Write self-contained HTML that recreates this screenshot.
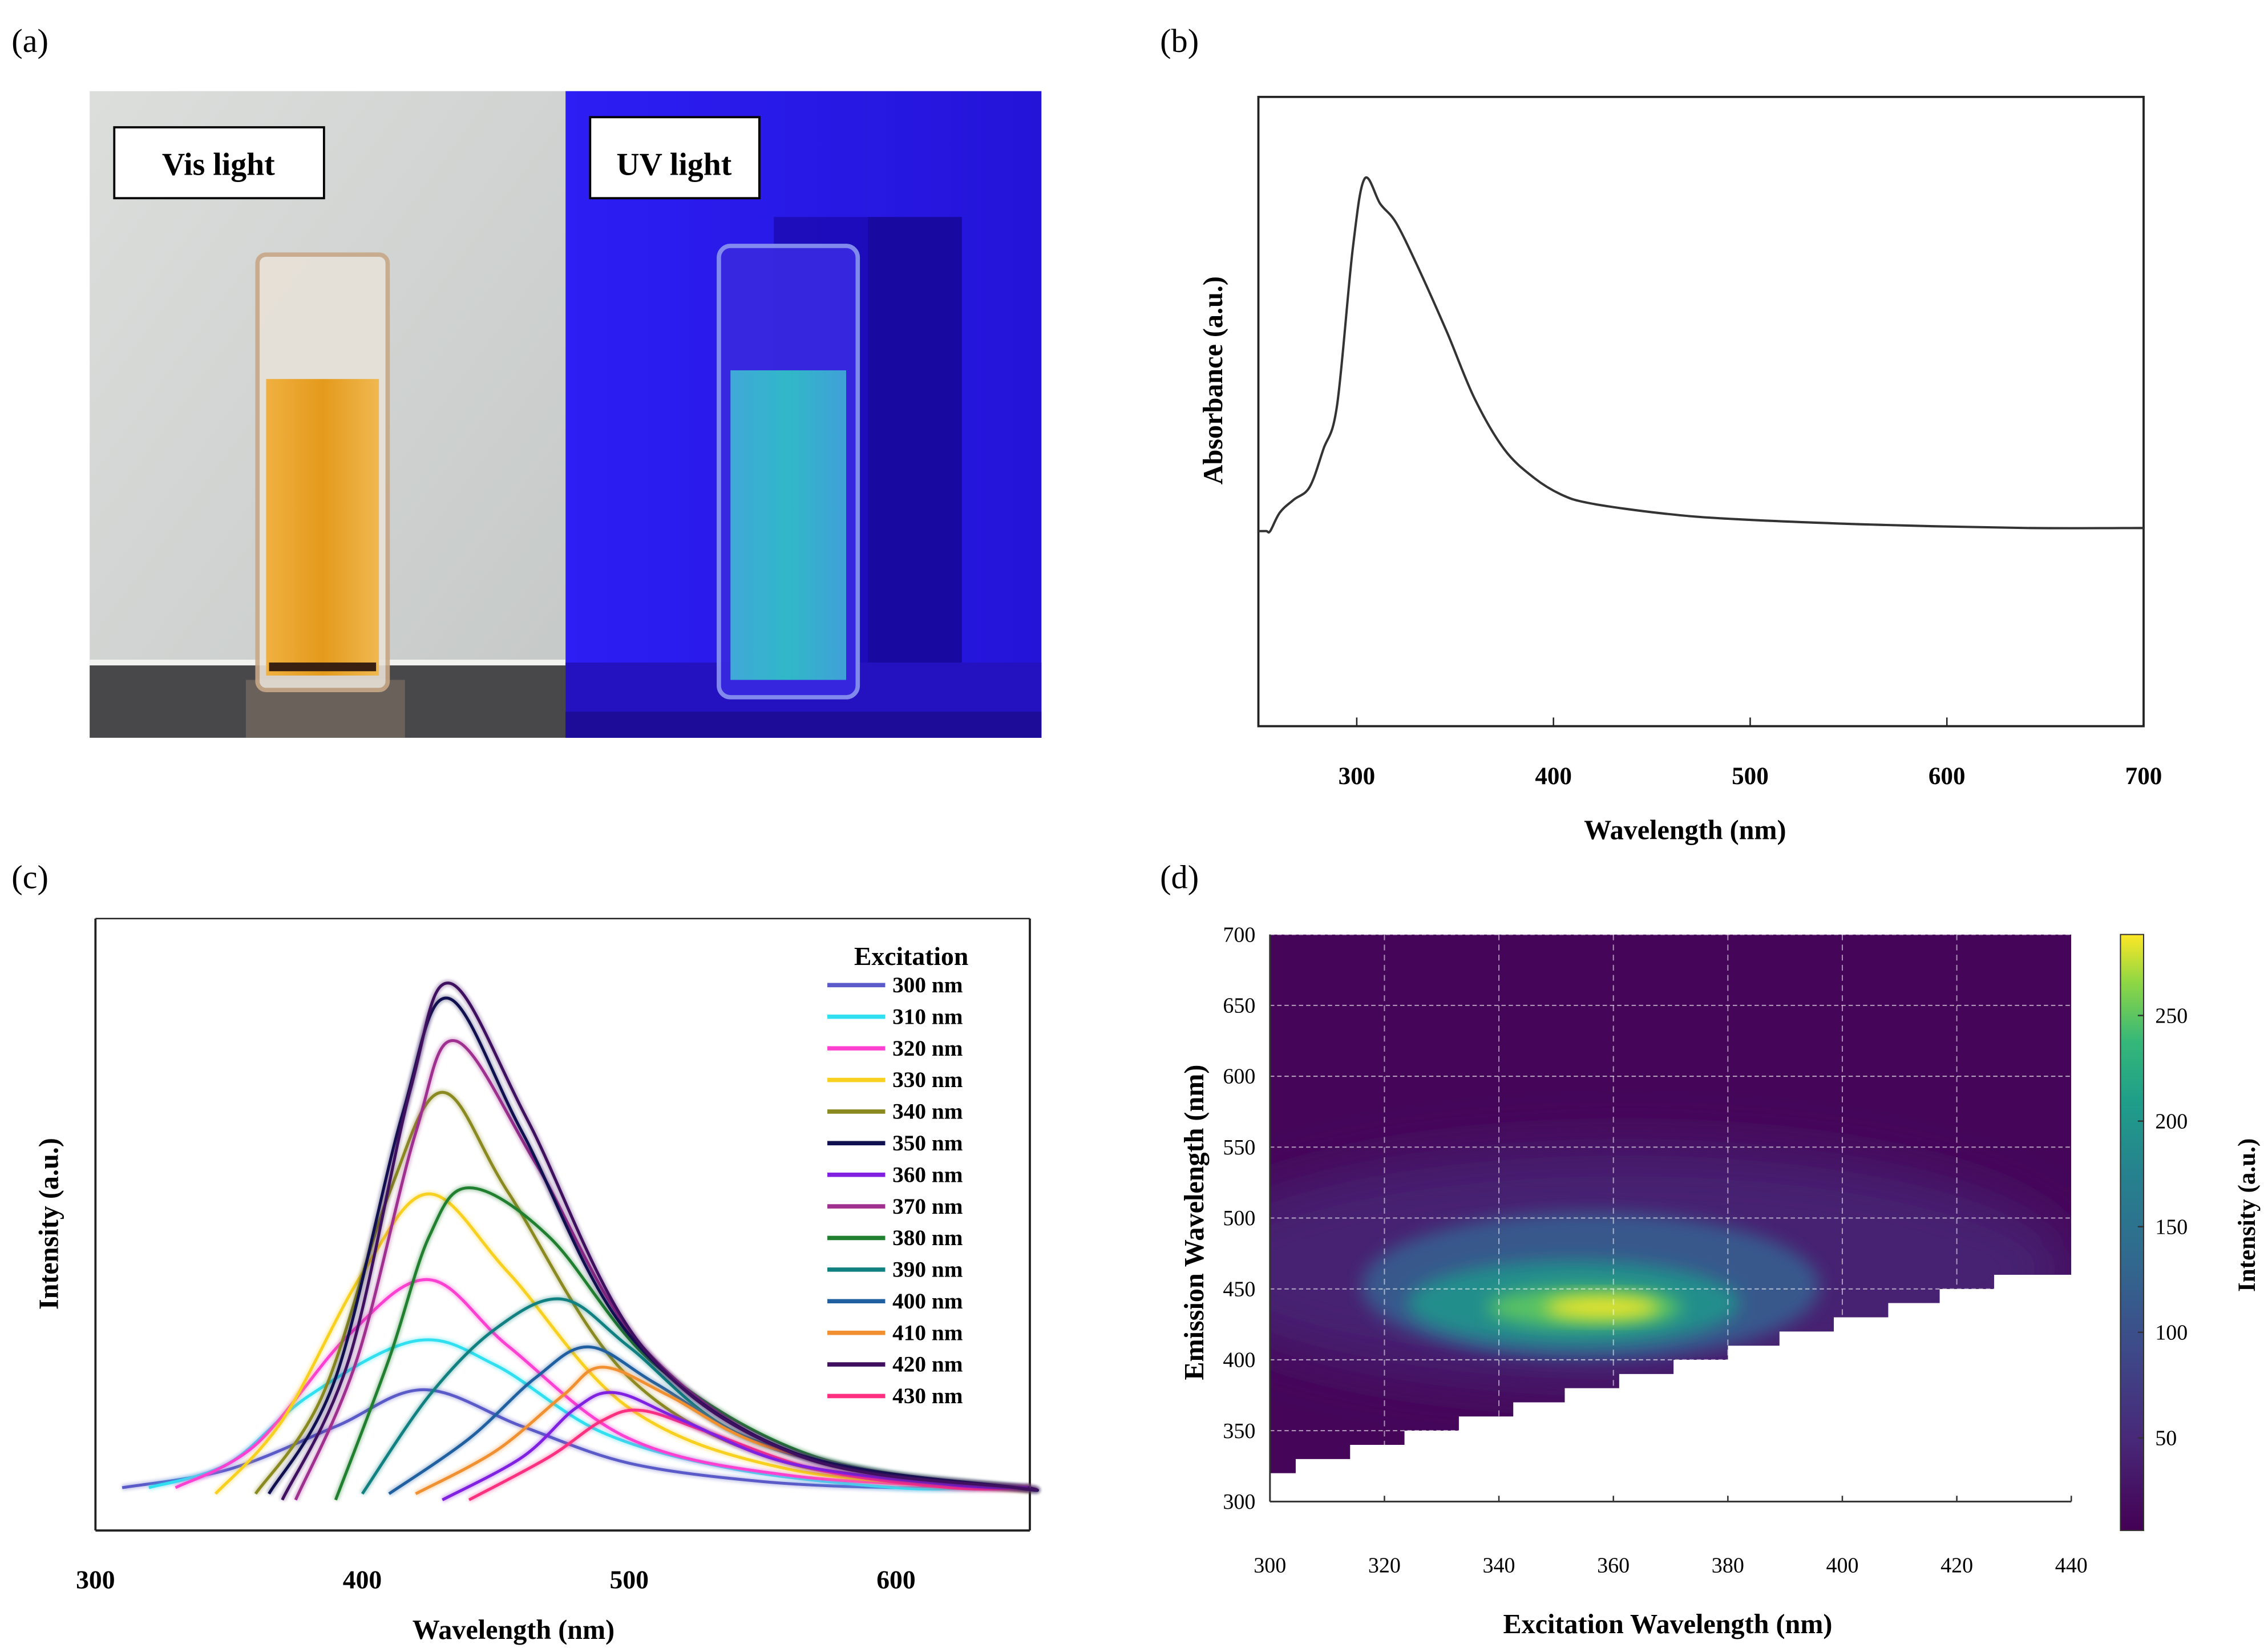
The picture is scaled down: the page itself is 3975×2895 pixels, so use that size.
<!DOCTYPE html>
<html><head><meta charset="utf-8">
<style>
html,body{margin:0;padding:0;background:#fff;}
svg{display:block;}
text{font-family:"Liberation Serif",serif;}
</style></head>
<body>
<svg id="fig" width="3975" height="2895" viewBox="0 0 1568 1142" preserveAspectRatio="none" xmlns="http://www.w3.org/2000/svg">
<defs>
<linearGradient id="visbg" x1="0" y1="0" x2="1" y2="1"><stop offset="0" stop-color="#dcdedc"/><stop offset="1" stop-color="#c4c8c6"/></linearGradient>
<linearGradient id="uvbg" x1="0" y1="0" x2="1" y2="0"><stop offset="0" stop-color="#2c1ef4"/><stop offset="1" stop-color="#2414d8"/></linearGradient>
<linearGradient id="orange" x1="0" y1="0" x2="1" y2="0"><stop offset="0" stop-color="#f0b040"/><stop offset="0.5" stop-color="#e49a1c"/><stop offset="1" stop-color="#f0b850"/></linearGradient>
<linearGradient id="cyan" x1="0" y1="0" x2="1" y2="0"><stop offset="0" stop-color="#40a8d8"/><stop offset="0.5" stop-color="#30b8c8"/><stop offset="1" stop-color="#40a0d8"/></linearGradient>
<linearGradient id="cbar" x1="0" y1="1" x2="0" y2="0">
<stop offset="0" stop-color="#440154"/><stop offset="0.15" stop-color="#482878"/><stop offset="0.3" stop-color="#3e4989"/><stop offset="0.45" stop-color="#31688e"/><stop offset="0.6" stop-color="#26828e"/><stop offset="0.72" stop-color="#1f9e89"/><stop offset="0.82" stop-color="#35b779"/><stop offset="0.92" stop-color="#8fd744"/><stop offset="1" stop-color="#fde725"/></linearGradient>
<filter id="blur" x="-50%" y="-50%" width="200%" height="200%"><feGaussianBlur stdDeviation="6"/></filter>
<filter id="blur2" x="-50%" y="-50%" width="200%" height="200%"><feGaussianBlur stdDeviation="18"/></filter>
<filter id="glow" x="-10%" y="-10%" width="120%" height="120%"><feGaussianBlur stdDeviation="1.2"/></filter>
<clipPath id="heatclip"><polygon id="clippoly" points="0,0"/></clipPath>
</defs>

<text x="8" y="36" font-size="23">(a)</text>
<text x="802" y="36" font-size="23">(b)</text>
<text x="8" y="614" font-size="23">(c)</text>
<text x="802" y="614" font-size="23">(d)</text>

<g>
  <rect x="62" y="63" width="329" height="447" fill="url(#visbg)"/>
  <rect x="62" y="456" width="329" height="4" fill="#f2f2f0"/>
  <rect x="62" y="460" width="329" height="50" fill="#48484a"/>
  <rect x="170" y="470" width="110" height="40" fill="#8a7a6a" opacity="0.5"/>
  <rect x="178" y="176" width="90" height="301" rx="6" fill="#e8e2d8" stroke="#c8a888" stroke-width="3" opacity="0.9"/>
  <rect x="184" y="262" width="78" height="205" fill="url(#orange)"/>
  <rect x="186" y="458" width="74" height="6" fill="#3a2010"/>
  <rect x="391" y="63" width="329" height="447" fill="url(#uvbg)"/>
  <rect x="535" y="150" width="130" height="330" fill="#1a0ab0" opacity="0.8"/>
  <rect x="600" y="150" width="65" height="330" fill="#160890" opacity="0.6"/>
  <rect x="391" y="458" width="329" height="52" fill="#2412c0"/>
  <rect x="391" y="492" width="329" height="18" fill="#1c0c98"/>
  <rect x="497" y="170" width="96" height="312" rx="8" fill="#3828e0" stroke="#8890f0" stroke-width="3" opacity="0.95"/>
  <rect x="505" y="256" width="80" height="214" fill="url(#cyan)"/>
  <rect x="79" y="88" width="145" height="49" fill="#fff" stroke="#000" stroke-width="1.5"/>
  <text x="151" y="121" font-size="22" font-weight="bold" text-anchor="middle">Vis light</text>
  <rect x="408" y="81" width="117" height="56" fill="#fff" stroke="#000" stroke-width="1.5"/>
  <text x="466" y="121" font-size="22" font-weight="bold" text-anchor="middle">UV light</text>
</g>

<g id="panelB">
  <rect x="870" y="67" width="612" height="435" fill="none" stroke="#222" stroke-width="1.5"/>
  <text x="1165" y="580" font-size="19" font-weight="bold" text-anchor="middle">Wavelength (nm)</text>
  <text transform="translate(845,263) rotate(-90)" font-size="19" font-weight="bold" text-anchor="middle">Absorbance (a.u.)</text>
</g>

<g id="panelC">
  <line x1="66" y1="635" x2="66" y2="1058" stroke="#222" stroke-width="1.5"/>
  <line x1="66" y1="1058" x2="712" y2="1058" stroke="#222" stroke-width="1.5"/>
  <line x1="712" y1="635" x2="712" y2="1058" stroke="#222" stroke-width="1.5"/>
  <line x1="66" y1="635" x2="712" y2="635" stroke="#222" stroke-width="1"/>
  <text x="355" y="1133" font-size="19" font-weight="bold" text-anchor="middle">Wavelength (nm)</text>
  <text transform="translate(40,846) rotate(-90)" font-size="19" font-weight="bold" text-anchor="middle">Intensity (a.u.)</text>
  <text x="630" y="667" font-size="18" font-weight="bold" text-anchor="middle">Excitation</text>
</g>

<g id="panelD">
  <text x="1153" y="1129" font-size="19" font-weight="bold" text-anchor="middle">Excitation Wavelength (nm)</text>
  <text transform="translate(832,845) rotate(-90)" font-size="19" font-weight="bold" text-anchor="middle">Emission Wavelength (nm)</text>
  <rect x="1466" y="646" width="16" height="412" fill="url(#cbar)" stroke="#333" stroke-width="0.8"/>
  <text transform="translate(1559,840) rotate(-90)" font-size="17" font-weight="bold" text-anchor="middle">Intensity (a.u.)</text>
</g>
</svg>

<script>
const NS='http://www.w3.org/2000/svg';
function mk(tag,attrs,parent){const e=document.createElementNS(NS,tag);for(const k in attrs)e.setAttribute(k,attrs[k]);parent.appendChild(e);return e;}
function smooth(pts){let d='M'+pts[0][0]+','+pts[0][1];for(let i=0;i<pts.length-1;i++){const p0=pts[Math.max(0,i-1)],p1=pts[i],p2=pts[i+1],p3=pts[Math.min(pts.length-1,i+2)];const c1=[p1[0]+(p2[0]-p0[0])/6,p1[1]+(p2[1]-p0[1])/6],c2=[p2[0]-(p3[0]-p1[0])/6,p2[1]-(p3[1]-p1[1])/6];d+=' C'+c1[0].toFixed(1)+','+c1[1].toFixed(1)+' '+c2[0].toFixed(1)+','+c2[1].toFixed(1)+' '+p2[0].toFixed(1)+','+p2[1].toFixed(1);}return d;}

/* ---------- Panel B data ---------- */
const absWavelength=[250,254,256,261,268,276,283,290,298,304,312,320,331,346,360,375,390,404,419,456,493,566,640,700];
const absValue=[0.31,0.31,0.31,0.34,0.36,0.38,0.44,0.51,0.76,0.87,0.83,0.80,0.73,0.625,0.52,0.44,0.395,0.368,0.354,0.338,0.329,0.32,0.315,0.315];
const absTicks=[300,400,500,600,700];
const gB=document.getElementById('panelB');
const bx=v=>870+(v-250)*(612/450), by=v=>502-v*435;
absTicks.forEach(t=>{
  const l=mk('line',{x1:bx(t),x2:bx(t),y1:502,y2:496,stroke:'#222','stroke-width':1},gB);
  
  
  const tx=mk('text',{x:bx(t),y:542,'font-size':17,'font-weight':'bold','text-anchor':'middle'},gB);tx.textContent=t;
  
  
});
const absLine=mk('path',{d:smooth(absWavelength.map((w,i)=>[bx(w),by(absValue[i])])),fill:'none',stroke:'#333','stroke-width':1.6},gB);



/* ---------- Panel C data ---------- */
const excitations=['300 nm','310 nm','320 nm','330 nm','340 nm','350 nm','360 nm','370 nm','380 nm','390 nm','400 nm','410 nm','420 nm','430 nm'];
const seriesColors=['#5a5ac8','#30e0f0','#ff40d0','#f8d020','#8a8a20','#101050','#8020e0','#a03090','#208030','#108080','#2060a0','#f09030','#401060','#ff3080'];
const sWl=[
[310,350,390,423,460,500,550,600,650],
[320,350,380,420,450,490,540,600,630],
[330,360,395,425,455,500,560,640,650],
[345,370,400,425,455,500,560,640,650],
[360,385,410,430,455,500,560,640,650],
[365,390,415,432,460,500,560,645,650],
[430,460,480,495,520,560,620,650,650],
[375,398,420,435,465,505,565,645,650],
[390,410,425,440,470,510,570,645,650],
[400,425,450,475,500,540,600,650,650],
[410,440,465,485,510,550,610,650,650],
[420,450,475,490,515,550,610,650,650],
[370,395,418,433,462,505,565,645,650],
[440,470,490,505,530,570,620,650,650]];
const sInt=[
[7,10,17,23,17,11,8,7,7],
[7,11,22,31,27,16,10,7,7],
[7,14,32,41,30,15,9,7,7],
[6,18,42,55,42,20,10,7,7],
[6,22,55,71.6,55,25,11,7,7],
[6,25,68,87,65,32,13,7,7],
[5,12,20,22.5,18,11,7.5,7,7],
[5,28,65,80,60,30,12,7,7],
[5,28,48,56,48,27,12,7,7],
[6,22,33,37.8,30,16,9,7,7],
[6,15,25,30,24,14,8,7,7],
[6,13,22,26.7,22,14,8,7,7],
[5,28,72,89.4,67,30,12,7,7],
[5,12,18,19.6,16,10,7,7,7]];
const cTicks=[300,400,500,600];
const gC=document.getElementById('panelC');
const cx=v=>66+(v-300)*1.845, cy=v=>1058-v*4.23;
cTicks.forEach(t=>{
  const tx=mk('text',{x:cx(t),y:1098,'font-size':18,'font-weight':'bold','text-anchor':'middle'},gC);tx.textContent=t;
  
  
});
const order=[0,1,2,3,4,8,9,10,11,13,6,7,5,12];
order.forEach(i=>{
  const pts=[];sWl[i].forEach((w,j)=>{if(j===0||w>sWl[i][j-1])pts.push([cx(w),cy(sInt[i][j])]);});
  const glow=mk('path',{d:smooth(pts),fill:'none',stroke:seriesColors[i],'stroke-width':4,opacity:0.35,filter:'url(#glow)'},gC);
  
  
  const p=mk('path',{d:smooth(pts),fill:'none',stroke:seriesColors[i],'stroke-width':2},gC);
  
  
});
excitations.forEach((lab,i)=>{
  const y=681+i*21.85;
  const l=mk('line',{x1:572,x2:612,y1:y,y2:y,stroke:seriesColors[i],'stroke-width':3},gC);
  
  
  const t=mk('text',{x:617,y:y+5,'font-size':15.5,'font-weight':'bold'},gC);t.textContent=lab;
  
  
});

/* ---------- Panel D data ---------- */
const exTicks=[300,320,340,360,380,400,420,440];
const emTicks=[300,350,400,450,500,550,600,650,700];
const cbTicks=[50,100,150,200,250];
const stepEx=[300,304.5,314,323.5,333,342.5,351.5,361,370.5,380,389,398.5,408,417,426.5,440];
const stepEm=[320,330,340,350,360,370,380,390,400,410,420,430,440,450,460];
const blobEx=[362,356,353,355,358];
const blobEm=[465,452,440,437,437];
const blobRx=[78,40,29,17,10];
const blobRy=[85,52,30,14,8];
const blobVal=[30,90,160,230,282];
const gD=document.getElementById('panelD');
const dx=v=>878+(v-300)*(554/140), dy=v=>1038-(v-300)*(392/400);
const vir=[[68,1,84],[72,40,120],[62,73,137],[49,104,142],[38,130,142],[31,158,137],[53,183,121],[143,215,68],[253,231,37]];
function viridis(v){const t=Math.max(0,Math.min(1,v/288))*(vir.length-1);const i=Math.min(vir.length-2,Math.floor(t)),f=t-i;const c=vir[i].map((a,k)=>Math.round(a+(vir[i+1][k]-a)*f));return 'rgb('+c.join(',')+')';}
let poly=[[dx(300),dy(700)],[dx(440),dy(700)]];
for(let i=stepEm.length-1;i>=0;i--){poly.push([dx(stepEx[i+1]),dy(stepEm[i])]);poly.push([dx(stepEx[i]),dy(stepEm[i])]);}
document.getElementById('clippoly').setAttribute('points',poly.map(p=>p[0].toFixed(1)+','+p[1].toFixed(1)).join(' '));
const hg=mk('g',{'clip-path':'url(#heatclip)'},gD);


mk('rect',{x:dx(300),y:dy(700),width:554,height:392,fill:viridis(5)},hg);
blobEx.forEach((e,i)=>{
  const el=mk('ellipse',{cx:dx(e),cy:dy(blobEm[i]),rx:blobRx[i]*554/140,ry:blobRy[i]*392/400,fill:viridis(blobVal[i]),filter:i===0?'url(#blur2)':'url(#blur)'},hg);
  
  
});
exTicks.slice(1,-1).forEach(t=>{mk('line',{x1:dx(t),x2:dx(t),y1:dy(700),y2:dy(300),stroke:'#fff','stroke-width':0.8,'stroke-dasharray':'4,3',opacity:0.55},hg);});
emTicks.slice(1).forEach(t=>{mk('line',{x1:dx(300),x2:dx(440),y1:dy(t),y2:dy(t),stroke:'#fff','stroke-width':0.8,'stroke-dasharray':'3,2',opacity:0.6},hg);});
mk('line',{x1:dx(300),x2:dx(300),y1:dy(700),y2:dy(300),stroke:'#333','stroke-width':1.2},gD);
mk('line',{x1:dx(300),x2:dx(440),y1:dy(300),y2:dy(300),stroke:'#333','stroke-width':1.2},gD);
exTicks.forEach(t=>{
  mk('line',{x1:dx(t),x2:dx(t),y1:dy(300),y2:dy(300)-4,stroke:'#333','stroke-width':1},gD);
  const tx=mk('text',{x:dx(t),y:1087,'font-size':15,'text-anchor':'middle'},gD);tx.textContent=t;
  
  
});
emTicks.forEach(t=>{
  const tx=mk('text',{x:868,y:dy(t)+5,'font-size':15,'text-anchor':'end'},gD);tx.textContent=t;
  
  
});
const cbY=v=>1067-v*(73/50);
cbTicks.forEach(t=>{
  mk('line',{x1:1482,x2:1478,y1:cbY(t),y2:cbY(t),stroke:'#333','stroke-width':1},gD);
  const tx=mk('text',{x:1490,y:cbY(t)+5,'font-size':15},gD);tx.textContent=t;
  
  
});
</script>
</body></html>
